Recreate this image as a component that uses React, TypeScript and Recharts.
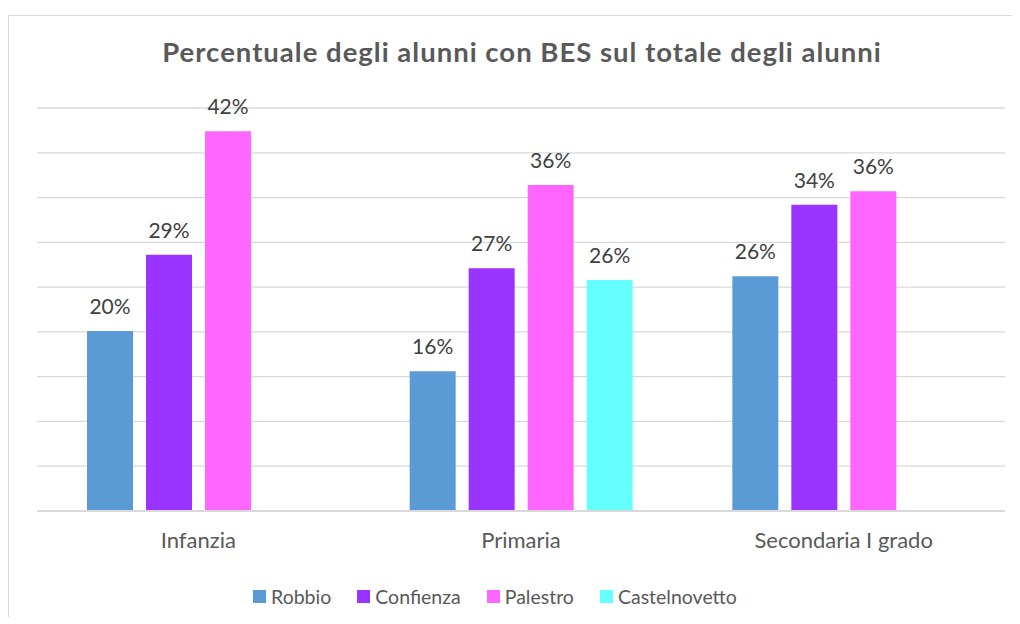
import { BarChart, Bar, XAxis, YAxis, CartesianGrid, Legend, LabelList } from "recharts";

const categories = ["Infanzia", "Primaria", "Secondaria I grado"];
const robbio = [20.1, 15.6, 26.2];
const confienza = [28.6, 27.1, 34.2];
const palestro = [42.4, 36.4, 35.7];
const castelnovetto = [null, 25.8, null];
const yTicks = [0, 5, 10, 15, 20, 25, 30, 35, 40, 45];

const series = [
  { key: "Robbio", values: robbio, color: "#5b9bd5" },
  { key: "Confienza", values: confienza, color: "#9933ff" },
  { key: "Palestro", values: palestro, color: "#ff66ff" },
  { key: "Castelnovetto", values: castelnovetto, color: "#66ffff" },
];

const data = categories.map((name, i) => {
  const row: Record<string, string | number | null> = { name };
  series.forEach((s) => {
    row[s.key] = s.values[i];
  });
  return row;
});

const FONT = "Lato, 'Open Sans', sans-serif";

const fmt = (v: any) => (v == null ? "" : `${Math.round(Number(v))}%`);

function LegendBox() {
  return (
    <div
      style={{
        height: 30,
        display: "flex",
        justifyContent: "center",
        alignItems: "center",
        transform: "translateX(-13px)",
        fontFamily: FONT,
        fontSize: 19.5,
        color: "#595959",
      }}
    >
      {series.map((s) => (
        <div key={s.key} style={{ display: "flex", alignItems: "center", marginRight: 26 }}>
          <span style={{ width: 13, height: 13, background: s.color, marginRight: 5, display: "inline-block" }} />
          <span>{s.key}</span>
        </div>
      ))}
    </div>
  );
}

export default function App() {
  return (
    <div
      style={{
        position: "relative",
        top: 7,
        width: 1011,
        height: 608,
        borderLeft: "1px solid #d9d9d9",
        borderTop: "1px solid #d9d9d9",
        background: "#fff",
        fontFamily: FONT,
      }}
    >
      <div
        style={{
          position: "absolute",
          left: 513,
          top: 22,
          transform: "translateX(-50%)",
          whiteSpace: "nowrap",
          fontSize: 27.5,
          fontWeight: 700,
          letterSpacing: 1,
          color: "#595959",
          lineHeight: 1,
        }}
      >
        Percentuale degli alunni con BES sul totale degli alunni
      </div>
      <BarChart
        width={1011}
        height={608}
        data={data}
        margin={{ top: 92, right: 15, left: 28, bottom: 13 }}
        barSize={46}
        barGap={13}
      >
        <CartesianGrid vertical={false} stroke="#d9d9d9" strokeWidth={1.3} />
        <YAxis hide domain={[0, 45]} ticks={yTicks} />
        <XAxis
          dataKey="name"
          height={70}
          tickLine={false}
          tickSize={0}
          tickMargin={21}
          axisLine={{ stroke: "#d9d9d9", strokeWidth: 2 }}
          tick={{ fill: "#595959", fontSize: 22, fontFamily: FONT }}
        />
        <Legend verticalAlign="bottom" content={() => <LegendBox />} />
        {series.map((s) => (
          <Bar key={s.key} dataKey={s.key} fill={s.color} isAnimationActive={false}>
            <LabelList
              dataKey={s.key}
              position="top"
              offset={17}
              formatter={fmt}
              fill="#404040"
              fontSize={21}
              fontFamily={FONT}
            />
          </Bar>
        ))}
      </BarChart>
    </div>
  );
}
